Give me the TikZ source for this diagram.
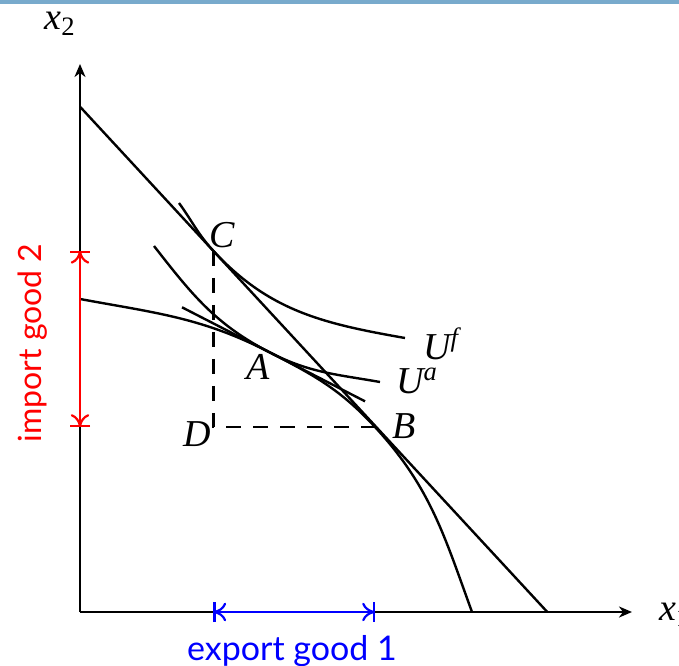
\documentclass[tikz,border=0pt]{standalone}
\usepackage{fontspec}
\setmainfont{Liberation Serif}
\newfontfamily\gillsans{Lato}
\usetikzlibrary{arrows.meta}
\definecolor{headbar}{RGB}{120,170,204}

\begin{document}
\begin{tikzpicture}[x=0.5pt,y=0.5pt,
  curve/.style={line width=1.2pt},
  dashline/.style={line width=1.2pt,dash pattern=on 7.5pt off 6pt},
  axis/.style={line width=1.2pt,-{Stealth[length=6.5pt,width=5.5pt,inset=2pt]}},
  dimline/.style={line width=1.1pt,{To[scale width=1.1,scale length=1.6]}-{To[scale width=1.1,scale length=1.6]},
    postaction={draw,{Bar[width=10pt]}-{Bar[width=10pt]}}},
  lbl/.style={font=\fontsize{19}{22}\selectfont\itshape},
  dimtext/.style={font=\gillsans\fontsize{#1}{20}\selectfont},
  dimtext/.default=16]
  \useasboundingbox (-80,-53) rectangle (599,612);
  \fill[headbar] (-80,608) rectangle (599,612);
  % points of the diagram
  \coordinate (O) at (0,0);
  \coordinate (C) at (133.3,361.2);
  \coordinate (D) at (133.3,185);
  \coordinate (B) at (295,185);
  \coordinate (A) at (190,259.5);
  % axes
  \draw[axis] (O) -- (0,548) coordinate (ytip);
  \draw[axis] (O) -- (552,0) coordinate (xtip);
  \node[lbl] (x2) at (-20,588) {x\textsubscript{\upshape 2}};
  \node[lbl,anchor=west] (x1) at (572,-3) {x\textsubscript{\upshape 1}};
  % price line, frontier, tangent at A
  \draw[curve] (0,505.3) coordinate (p1) -- (467.3,0) coordinate (p2);
  \draw[curve] (0,313) to[out=-10.5,in=152.8] (A) to[out=-27.2,in=132.7] (B)
    to[out=-47.3,in=110] (392,0);
  \draw[curve] (A) ++(-88,45.2) -- ++(183,-94);
  % indifference curves
  \draw[curve] (74,366) to[out=-52,in=152.8] (A) to[out=-27.2,in=170] (300,230);
  \draw[curve] (99,409) to[out=-54,in=132.7] (C) to[out=-47.3,in=170] (325,274);
  \draw[dashline] (C) -- (D) -- (B);
  \node[lbl] (labC) at (142,377) {C};
  \node[lbl] (labA) at (178,245) {A};
  \node[lbl] (labB) at (324,186) {B};
  \node[lbl] (labD) at (117,178) {D};
  \node[lbl,anchor=west] (labUf) at (336,268) {U\textsuperscript{f}};
  \node[lbl,anchor=west] (labUa) at (309,231) {U\textsuperscript{a}};
  % trade volumes
  \draw[dimline,red] (O |- C) -- (O |- D);
  \draw[dimline,blue] (D |- O) -- (B |- O);
  \node[dimtext,red,rotate=90] (imp) at (-47,269) {import good 2};
  \node[dimtext=17,blue] (exp) at (212,-39) {export good 1};
\end{tikzpicture}
\end{document}
